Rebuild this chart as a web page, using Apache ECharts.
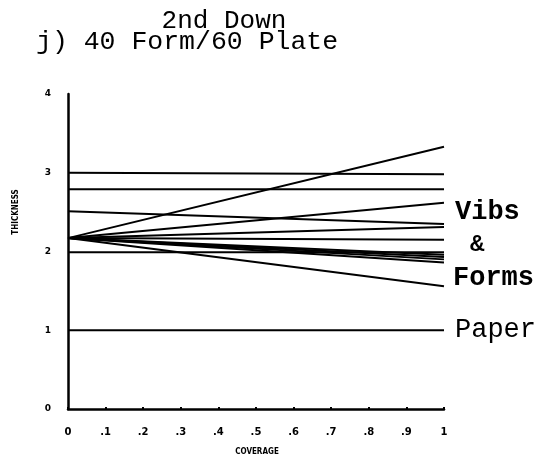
<!DOCTYPE html>
<html>
<head>
<meta charset="utf-8">
<script src="https://cdn.jsdelivr.net/npm/echarts@6/dist/echarts.min.js"></script>
<style>
  html, body { margin: 0; padding: 0; background: #fff; }
  #chart { width: 541px; height: 460px; }
</style>
</head>
<body>
<div id="chart"></div>
<script>
// Thickness vs coverage, each trace runs from coverage 0 to coverage 1
const coverageRange = [0, 1];
const startThickness = [3.0, 2.79, 2.51, 1.99, 2.17, 2.17, 2.17, 2.17, 2.17, 2.17, 2.17, 2.17, 2.17, 1.0];
const endThickness   = [2.98, 2.79, 2.35, 1.99, 3.33, 2.62, 2.31, 2.15, 1.96, 1.93, 1.90, 1.86, 1.56, 1.0];
const xTickLabels = ['0', '.1', '.2', '.3', '.4', '.5', '.6', '.7', '.8', '.9', '1'];
const yTickLabels = ['0', '1', '2', '3', '4'];

const series = startThickness.map((s, i) => ({
  type: 'line',
  symbol: 'none',
  silent: true,
  lineStyle: { color: '#000', width: 2 },
  data: [[coverageRange[0], s], [coverageRange[1], endThickness[i]]]
}));

const chart = echarts.init(document.getElementById('chart'), null, { renderer: 'canvas' });
chart.setOption({
  animation: false,
  backgroundColor: '#fff',
  grid: { left: 68, right: 97, top: 94, bottom: 51 },
  xAxis: {
    type: 'value', min: 0, max: 1, interval: 0.1,
    axisLine: { lineStyle: { color: '#000', width: 2.5 } },
    axisTick: { show: true, inside: true, length: 2, lineStyle: { color: '#000', width: 2 } },
    splitLine: { show: false },
    axisLabel: {
      color: '#000', fontFamily: 'DejaVu Sans', fontWeight: 'bold', fontSize: 10, margin: 18,
      formatter: (v) => xTickLabels[Math.round(v * 10)]
    }
  },
  yAxis: {
    type: 'value', min: 0, max: 4, interval: 1,
    axisLine: { show: true, lineStyle: { color: '#000', width: 2.5 } },
    axisTick: { show: false },
    splitLine: { show: false },
    axisLabel: {
      color: '#000', fontFamily: 'DejaVu Sans', fontWeight: 'bold', fontSize: 9, margin: 17,
      formatter: (v) => yTickLabels[v]
    }
  },
  series: series,
  graphic: [
    { type: 'text', x: 224, y: 21, style: { text: '2nd Down', font: '26px "Liberation Mono"', fill: '#000', textAlign: 'center', textVerticalAlign: 'middle' } },
    { type: 'text', x: 36, y: 42, style: { text: 'j) 40 Form/60 Plate', font: '26.5px "Liberation Mono"', fill: '#000', textAlign: 'left', textVerticalAlign: 'middle' } },
    { type: 'text', x: 16, y: 212, rotation: Math.PI / 2, style: { text: 'THICKNESS', font: 'bold 8px "DejaVu Sans Condensed"', fill: '#000', textAlign: 'center', textVerticalAlign: 'middle' } },
    { type: 'text', x: 257, y: 452, style: { text: 'COVERAGE', font: 'bold 8px "DejaVu Sans Condensed"', fill: '#000', textAlign: 'center', textVerticalAlign: 'middle' } },
    { type: 'text', x: 455, y: 212, style: { text: 'Vibs', font: 'bold 27px "Liberation Mono"', fill: '#000', textAlign: 'left', textVerticalAlign: 'middle' } },
    { type: 'text', x: 470, y: 245, style: { text: '&', font: 'bold 24px "Liberation Mono"', fill: '#000', textAlign: 'left', textVerticalAlign: 'middle' } },
    { type: 'text', x: 453, y: 278, style: { text: 'Forms', font: 'bold 27px "Liberation Mono"', fill: '#000', textAlign: 'left', textVerticalAlign: 'middle' } },
    { type: 'text', x: 455, y: 330, style: { text: 'Paper', font: '27px "Liberation Mono"', fill: '#000', textAlign: 'left', textVerticalAlign: 'middle' } }
  ]
});
</script>
</body>
</html>
